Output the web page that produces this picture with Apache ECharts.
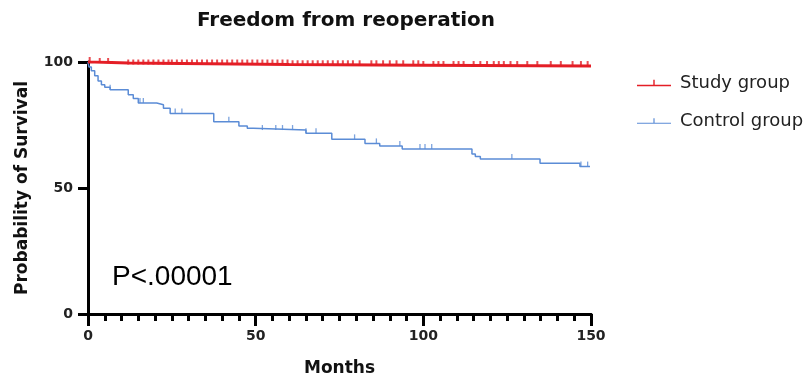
<!DOCTYPE html>
<html>
<head>
<meta charset="utf-8">
<script src="https://cdn.jsdelivr.net/npm/echarts@6/dist/echarts.min.js"></script>
<style>html,body{margin:0;padding:0;background:#fff}#c{width:808px;height:382px}</style>
</head>
<body>
<div id="c"></div>
<script>
// Kaplan-Meier steps: [month, survival %]
var studySteps = [[0,100],[2,99.6],[12,99.0],[60,98.7],[100,98.4],[150,98.4]];
var controlSteps = [[0,100],[0.3,98],[1,96.5],[2,94.5],[3,92.5],[4,91],[5,90],[6.6,89],[12,87],[13.5,85.5],[15,83.7],[20.5,83],[22.5,81.6],[24.5,79.6],[37.5,76.3],[45,74.6],[47.5,73.7],[49.3,73],[65,71.7],[72.7,69.3],[82.6,67.7],[87,66.7],[93.7,65.5],[114.5,63.5],[115.5,62.5],[117,61.5],[134.8,59.8],[146.7,58.5],[149.7,58.5]];
// censored observation times (months)
var studyCensor = [0.5,3.5,6,12,13.5,15,16.5,18,19.5,21,22.5,24,25,26.5,28,29.5,31,32.5,34,35.5,37,38.5,40,41.5,43,44.5,46,47.5,49,50.5,52,53.5,55,56.5,58,59.5,61,62.5,64,65.5,67,68.5,70,71.5,73,74.5,76,77.5,79,81,84.5,86,88,90,92,94,97,98.5,100,103,104.5,106,109,110.5,112,115,117,119,121,122.5,124,126,128,131,134,138,141,144.5,147,149];
var controlCensor = [6.6,15.5,16.5,26,28,42,52,56,58,61,65,68,79.5,86,93,99,100.5,102.5,126.4,147,149];
var seriesNames = ['Study group','Control group'];
var xTicks = {min:0,max:150,interval:50,minorInterval:5};
var yTicks = {min:0,max:100,interval:50};

function survAt(steps,t){var v=steps[0][1];for(var i=0;i<steps.length;i++){if(steps[i][0]<=t)v=steps[i][1];}return v;}
function censorPts(steps,times){return times.map(function(t){return [t,survAt(steps,t)];});}

var RED='#e41e26', BLUE='#5b8cd6';
var FONT='DejaVu Sans';
var chart = echarts.init(document.getElementById('c'));
chart.setOption({
  animation:false,
  title:{text:'Freedom from reoperation',left:341,top:6,textAlign:'center',
    textStyle:{fontFamily:FONT,fontWeight:'bold',fontSize:20,color:'#111'}},
  legend:{orient:'vertical',left:632,top:68,itemWidth:34,itemHeight:7,itemGap:18,
    data:[
      {name:seriesNames[0],icon:'path://M0,5 L34,5 L34,6.5 L0,6.5 Z M16.3,0 L17.7,0 L17.7,5 L16.3,5 Z'},
      {name:seriesNames[1],icon:'path://M0,5 L34,5 L34,6.2 L0,6.2 Z M16.4,0.5 L17.6,0.5 L17.6,5 L16.4,5 Z'}],
    textStyle:{fontFamily:FONT,fontSize:18,color:'#222',lineHeight:20,padding:[0,0,0,4]}},
  grid:{left:88,right:217,top:62,bottom:68},
  xAxis:[{type:'value',min:xTicks.min,max:xTicks.max,interval:xTicks.interval,
    name:'Months',nameLocation:'middle',nameGap:46,
    nameTextStyle:{fontFamily:FONT,fontWeight:'bold',fontSize:17,color:'#111'},
    axisLine:{show:true,lineStyle:{color:'#000',width:3}},
    axisTick:{show:true,length:12,lineStyle:{color:'#000',width:3}},
    splitLine:{show:false},
    axisLabel:{margin:15,fontFamily:FONT,fontWeight:'bold',fontSize:14,color:'#222'}},
   {type:'value',position:'bottom',min:xTicks.min,max:xTicks.max,interval:xTicks.minorInterval,
    axisLine:{show:true,lineStyle:{color:'#000',width:3}},axisLabel:{show:false},splitLine:{show:false},
    axisTick:{show:true,length:7,lineStyle:{color:'#000',width:3}}}],
  yAxis:{type:'value',min:yTicks.min,max:yTicks.max,interval:yTicks.interval,
    name:'Probability of Survival',nameLocation:'middle',nameGap:57,
    nameTextStyle:{fontFamily:FONT,fontWeight:'bold',fontSize:17,color:'#111'},
    axisLine:{show:true,lineStyle:{color:'#000',width:3}},
    axisTick:{show:true,length:10,lineStyle:{color:'#000',width:3}},
    splitLine:{show:false},
    axisLabel:{margin:15,fontFamily:FONT,fontWeight:'bold',fontSize:14,color:'#222'}},
  graphic:[{type:'text',x:112,y:277,style:{text:'P<.00001',fontFamily:'Liberation Sans',fontSize:28,fill:'#000',verticalAlign:'middle'}}],
  series:[
    {name:seriesNames[1],type:'line',step:'end',data:controlSteps,showSymbol:false,symbol:'none',
      color:BLUE,lineStyle:{color:BLUE,width:1.5},z:2},
    {name:seriesNames[0],type:'line',step:'end',data:studySteps,showSymbol:false,symbol:'none',
      color:RED,lineStyle:{color:RED,width:3},z:3},
    {name:'cc',type:'scatter',data:censorPts(controlSteps,controlCensor),symbol:'rect',symbolSize:[1.3,5],symbolOffset:[0,-2.5],
      itemStyle:{color:BLUE},z:2,silent:true},
    {name:'sc',type:'scatter',data:censorPts(studySteps,studyCensor),symbol:'rect',symbolSize:[2,5],symbolOffset:[0,-2.5],
      itemStyle:{color:RED},z:4,silent:true}
  ]
});
</script>
</body>
</html>
